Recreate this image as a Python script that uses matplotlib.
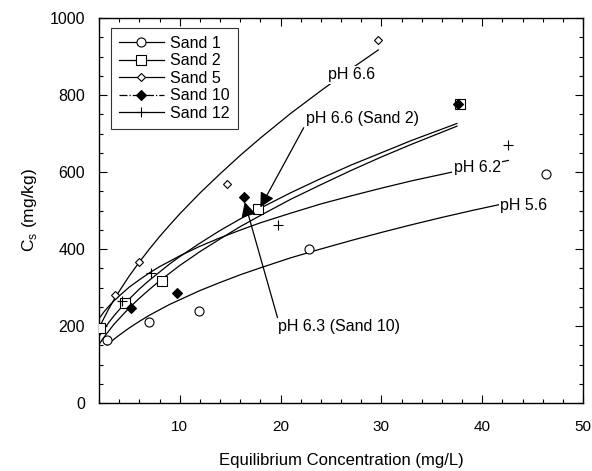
import matplotlib
matplotlib.use("Agg")
import matplotlib.pyplot as plt
from matplotlib.lines import Line2D
from matplotlib.ticker import MultipleLocator

plt.rcParams['font.family'] = ['Liberation Sans', 'DejaVu Sans']
plt.rcParams['mathtext.fontset'] = 'custom'
plt.rcParams['mathtext.rm'] = 'Liberation Sans'

# ---- measured data points ----
sand1_x = [2.8, 7.0, 11.9, 22.8, 46.3]
sand1_y = [164, 210, 240, 400, 594]
sand2_x = [2.1, 4.6, 8.2, 17.8, 37.8]
sand2_y = [195, 259, 317, 503, 776]
sand5_x = [3.6, 6.0, 14.7, 29.7]
sand5_y = [280, 365, 569, 943]
sand10_x = [5.2, 9.7, 16.4, 37.6]
sand10_y = [246, 287, 535, 777]
sand12_x = [4.3, 7.2, 19.8, 42.6]
sand12_y = [264, 338, 462, 670]

# ---- fitted isotherm curves ----
c56_x = [2.8, 3.5, 4, 5, 6, 7, 8, 9, 10, 12, 14, 16, 18, 21, 24, 27, 30, 33, 36, 39, 42]
c56_y = [150, 166, 176, 195, 212, 228, 242, 256, 268, 292, 313, 333, 351, 377, 400, 422, 443, 463, 482, 500, 517]
c62_x = [2.0, 2.5, 3, 3.5, 4, 5, 6, 7, 8, 9, 10, 12, 14, 16, 18, 21, 24, 27, 30, 33, 36, 39, 42.6]
c62_y = [219, 237, 252, 266, 278, 301, 320, 338, 354, 368, 382, 407, 429, 449, 468, 493, 517, 538, 558, 577, 594, 611, 630]
c66_x = [2.0, 2.5, 3, 3.5, 4, 5, 6, 7, 8, 9, 10, 12, 14, 16, 18, 21, 24, 27, 29.7]
c66_y = [195, 221, 246, 269, 290, 330, 366, 400, 432, 462, 491, 545, 595, 643, 688, 752, 811, 868, 917]
c66s2_x = [2.0, 2.5, 3, 3.5, 4, 5, 6, 7, 8, 9, 10, 12, 14, 16, 18, 21, 24, 27, 30, 33, 37.5]
c66s2_y = [173, 192, 210, 227, 242, 270, 296, 319, 340, 361, 380, 415, 448, 478, 506, 546, 583, 618, 650, 682, 726]
c63s10_x = [2.0, 2.5, 3, 3.5, 4, 5, 6, 7, 8, 9, 10, 12, 14, 16, 18, 21, 24, 27, 30, 33, 37.5]
c63s10_y = [152, 171, 188, 205, 219, 247, 272, 295, 317, 337, 357, 393, 426, 458, 487, 529, 567, 604, 639, 672, 719]

legend_labels = ['Sand 1', 'Sand 2', 'Sand 5', 'Sand 10', 'Sand 12']
xticks = [10, 20, 30, 40, 50]
yticks = [0, 200, 400, 600, 800, 1000]

fig = plt.figure(figsize=(5.92, 4.71), dpi=100)
ax = fig.add_axes([99/592, 68/471, 484/592, 385/471])

lw = 0.9
for cx, cy in [(c56_x, c56_y), (c62_x, c62_y), (c66_x, c66_y),
               (c66s2_x, c66s2_y), (c63s10_x, c63s10_y)]:
    ax.plot(cx, cy, color='k', lw=lw, zorder=2, solid_joinstyle='round')

ax.plot(sand1_x, sand1_y, ls='none', marker='o', ms=6.5, mfc='white', mec='k', mew=0.8, zorder=3)
ax.plot(sand2_x, sand2_y, ls='none', marker='s', ms=6.5, mfc='white', mec='k', mew=0.8, zorder=3)
ax.plot(sand5_x, sand5_y, ls='none', marker='D', ms=4.5, mfc='white', mec='k', mew=0.8, zorder=3)
ax.plot(sand10_x, sand10_y, ls='none', marker='D', ms=5, mfc='k', mec='k', mew=0.8, zorder=4)
ax.plot(sand12_x, sand12_y, ls='none', marker='+', ms=6.5, mec='k', mew=0.8, zorder=3)

fs = 11.5
bb = dict(facecolor='white', edgecolor='none', pad=1.0)
ax.text(24.75, 852, 'pH 6.6', fontsize=fs, va='center', ha='left', bbox=bb, zorder=5)
ax.text(22.5, 740, 'pH 6.6 (Sand 2)', fontsize=fs, va='center', ha='left', bbox=bb, zorder=5)
ax.text(37.2, 612, 'pH 6.2', fontsize=fs, va='center', ha='left', bbox=bb, zorder=5)
ax.text(41.8, 514, 'pH 5.6', fontsize=fs, va='center', ha='left', bbox=bb, zorder=5)
ax.text(19.8, 198, 'pH 6.3 (Sand 10)', fontsize=fs, va='center', ha='left', bbox=bb, zorder=5)

ap = dict(arrowstyle='-|>,head_length=0.55,head_width=0.28', color='k', lw=0.9,
          mutation_scale=16, shrinkA=0, shrinkB=0)
ax.annotate('', xy=(18.0, 508), xytext=(22.3, 715), arrowprops=ap, zorder=6)
ax.annotate('', xy=(16.45, 522), xytext=(19.7, 222), arrowprops=ap, zorder=6)

ax.set_xlim(2, 50)
ax.set_ylim(0, 1000)
ax.set_xticks(xticks)
ax.set_yticks(yticks)
ax.xaxis.set_minor_locator(MultipleLocator(2))
ax.yaxis.set_minor_locator(MultipleLocator(50))
ax.tick_params(which='both', direction='in', top=True, right=True, width=0.8)
ax.tick_params(which='major', length=6)
ax.tick_params(which='minor', length=3)
ax.tick_params(axis='x', which='major', pad=12, labelsize=11)
ax.tick_params(axis='y', which='major', pad=10, labelsize=11.5)
for s in ax.spines.values():
    s.set_linewidth(1.0)

ax.set_xlabel('Equilibrium Concentration (mg/L)', fontsize=12, labelpad=14)
ax.set_ylabel(r'C$_\mathregular{s}$ (mg/kg)', fontsize=12.5, labelpad=8)

handles = [
    Line2D([], [], color='k', lw=lw, marker='o', ms=6.5, mfc='white', mec='k', mew=0.8),
    Line2D([], [], color='k', lw=lw, marker='s', ms=6.5, mfc='white', mec='k', mew=0.8),
    Line2D([], [], color='k', lw=lw, marker='D', ms=4.5, mfc='white', mec='k', mew=0.8),
    Line2D([], [], color='k', lw=lw, ls='-.', marker='D', ms=5, mfc='k', mec='k', mew=0.8),
    Line2D([], [], color='k', lw=lw, marker='+', ms=6.5, mec='k', mew=0.8),
]
leg = ax.legend(handles, legend_labels, loc='upper left', bbox_to_anchor=(0.025, 0.974),
                borderaxespad=0, fontsize=11.5, frameon=True, fancybox=False,
                edgecolor='k', handlelength=2.8, handletextpad=0.4,
                labelspacing=0.15, borderpad=0.5)
leg.get_frame().set_linewidth(0.8)
leg.set_zorder(7)

fig.savefig('out.png', dpi=100)
